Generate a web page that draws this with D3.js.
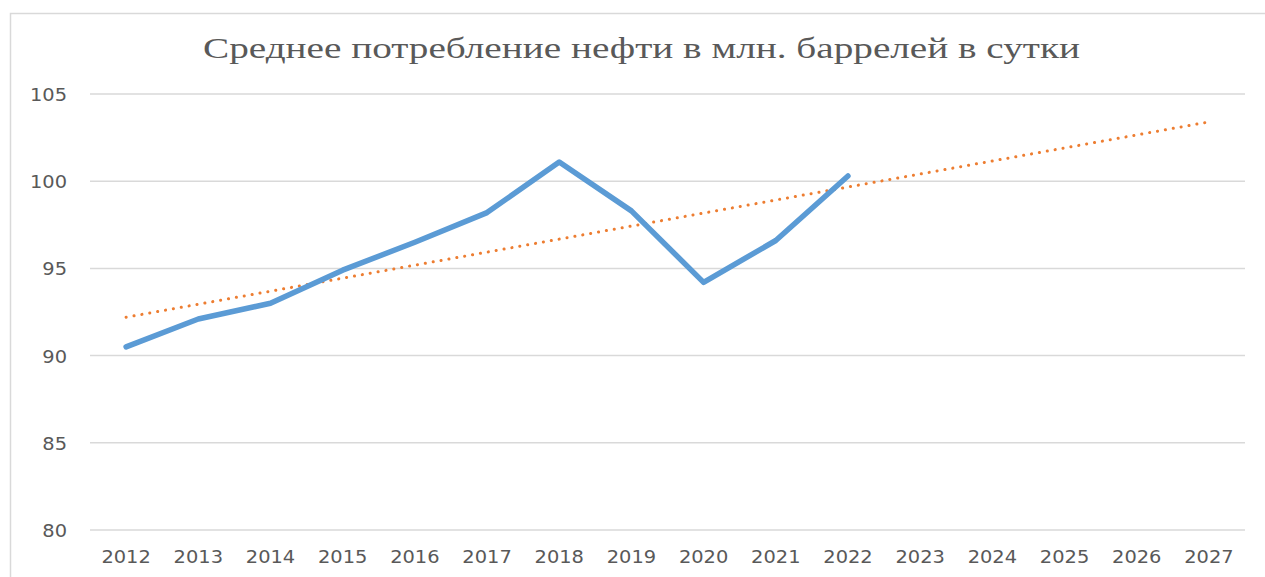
<!DOCTYPE html>
<html>
<head>
<meta charset="utf-8">
<script src="https://cdn.jsdelivr.net/npm/d3@7"></script>
<style>
  body { margin: 0; background: #fff; }
  svg { display: block; }
  .tick-label { font-family: "DejaVu Sans", sans-serif; font-size: 18.5px; fill: #595959; }
</style>
</head>
<body>
<div class="chart-container"></div>
<script>
// Data
const years = ['2012', '2013', '2014', '2015', '2016', '2017', '2018', '2019', '2020', '2021', '2022', '2023', '2024', '2025', '2026', '2027'];
const consumption = [90.5, 92.1, 93.0, 94.9, 96.5, 98.2, 101.1, 98.3, 94.2, 96.6, 100.3];
const trendYears = ['2012', '2027'];
const trendValues = [92.2, 103.4];
const yTicks = [80, 85, 90, 95, 100, 105];
const title = 'Среднее потребление нефти в млн. баррелей в сутки';

// Setup
const width = 1265, height = 577;
const margin = { top: 94, right: 20, bottom: 47, left: 90 };

const svg = d3.select('.chart-container')
    .append('svg')
    .attr('width', width)
    .attr('height', height);

// chart frame
svg.append('rect')
    .attr('x', 10.5)
    .attr('y', 13.5)
    .attr('width', width + 10)
    .attr('height', height + 10)
    .attr('fill', 'none')
    .attr('stroke', '#d9d9d9')
    .attr('stroke-width', 1.5);

// Scales
const x = d3.scaleBand().domain(years).range([margin.left, width - margin.right]).padding(0);
const y = d3.scaleLinear().domain([80, 105]).range([height - margin.bottom, margin.top]);
const cx = d => x(d) + x.bandwidth() / 2;

// Gridlines
svg.append('g')
    .selectAll('line')
    .data(yTicks)
    .join('line')
    .attr('x1', margin.left)
    .attr('x2', width - margin.right)
    .attr('y1', d => y(d))
    .attr('y2', d => y(d))
    .attr('stroke', '#d9d9d9')
    .attr('stroke-width', 1.5);

// Y labels
svg.append('g')
    .selectAll('text')
    .data(yTicks)
    .join('text')
    .attr('class', 'tick-label')
    .attr('text-anchor', 'end')
    .attr('transform', d => `translate(67,${y(d) + 7}) scale(1.05,1)`)
    .text(d => d);

// X labels
svg.append('g')
    .selectAll('text')
    .data(years)
    .join('text')
    .attr('class', 'tick-label')
    .attr('text-anchor', 'middle')
    .attr('transform', d => `translate(${cx(d)},563) scale(1.05,1)`)
    .text(d => d);

// Trend line (linear, dotted)
const trendData = trendYears.map((yr, i) => ({ year: yr, value: trendValues[i] }));
svg.append('path')
    .datum(trendData)
    .attr('fill', 'none')
    .attr('stroke', '#ed7d31')
    .attr('stroke-width', 3)
    .attr('stroke-linecap', 'round')
    .attr('stroke-dasharray', '0.1 7.9')
    .attr('d', d3.line().x(d => cx(d.year)).y(d => y(d.value)));

// Main series
const lineData = consumption.map((v, i) => ({ year: years[i], value: v }));
svg.append('path')
    .datum(lineData)
    .attr('fill', 'none')
    .attr('stroke', '#5b9bd5')
    .attr('stroke-width', 5.5)
    .attr('stroke-linecap', 'round')
    .attr('stroke-linejoin', 'round')
    .attr('d', d3.line().x(d => cx(d.year)).y(d => y(d.value)));

// Title
svg.append('text')
    .attr('x', 203)
    .attr('y', 58)
    .attr('textLength', 877)
    .attr('lengthAdjust', 'spacingAndGlyphs')
    .style('font-family', '"Liberation Serif", "Times New Roman", serif')
    .style('font-size', '30px')
    .style('fill', '#595959')
    .text(title);
</script>
</body>
</html>
